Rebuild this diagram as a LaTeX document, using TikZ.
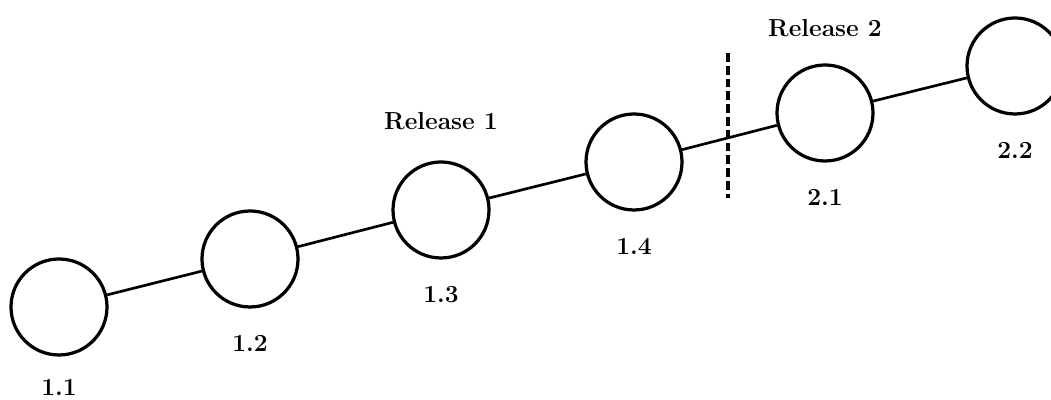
\documentclass[tikz,border=0pt]{standalone}
\usepackage{tikz}
\usetikzlibrary{positioning}

\begin{document}
\begin{tikzpicture}[
    version/.style={circle, draw, line width=2.3pt, minimum size=2.4cm, inner sep=0pt},
    vlabel/.style={inner sep=0pt, font=\fontsize{17.5}{20}\selectfont\bfseries},
    link/.style={line width=1.9pt}
  ]
    \useasboundingbox (0,0) rectangle (26.275,10);
    \node[version] (v11) at (1.475,2.325) {};
    \node[version] (v12) at (6.25,3.525) {};
    \node[version] (v13) at (11.025,4.75) {};
    \node[version] (v14) at (15.85,5.95) {};
    \node[version] (v21) at (20.625,7.175) {};
    \node[version] (v22) at (25.375,8.35) {};
    \node[vlabel, below=0.55cm of v11] (n11) {1.1};
    \node[vlabel, below=0.67cm of v12] (n12) {1.2};
    \node[vlabel, below=0.67cm of v13] (n13) {1.3};
    \node[vlabel, below=0.67cm of v14] (n14) {1.4};
    \node[vlabel, below=0.67cm of v21] (n21) {2.1};
    \node[vlabel, below=0.67cm of v22] (n22) {2.2};
    \node[vlabel, above=0.75cm of v13] (rel1) {Release 1};
    \node[vlabel, above=0.65cm of v21] (rel2) {Release 2};
    \draw[link] (v11) -- (v12);
    \draw[link] (v12) -- (v13);
    \draw[link] (v13) -- (v14);
    \draw[link] (v14) -- (v21);
    \draw[link] (v21) -- (v22);
    \coordinate (cuttop) at (18.2,8.675);
    \coordinate (cutbot) at (18.2,5.05);
    \draw[line width=2.3pt, dash pattern=on 0.22cm off 0.1cm] (cuttop) -- (cutbot);
\end{tikzpicture}
\end{document}
